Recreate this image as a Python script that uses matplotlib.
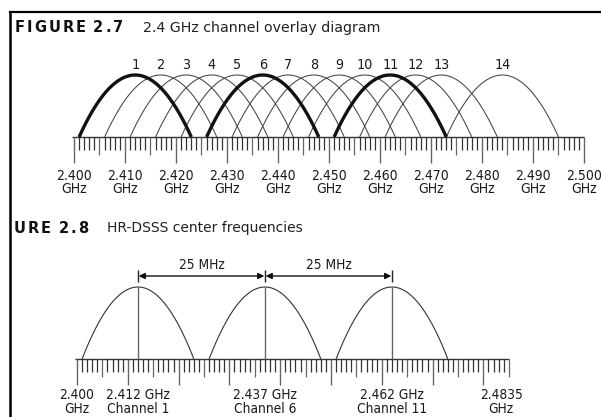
import numpy as np
import matplotlib.pyplot as plt
from matplotlib.lines import Line2D

##-------------------DATA: FIGURE 2.7 (channel overlay)
channels = list(range(1, 15))
centers_27 = [2412, 2417, 2422, 2427, 2432, 2437, 2442, 2447, 2452, 2457, 2462, 2467, 2472, 2484]
bold_channels = [1, 6, 11]
half_width = 11  # MHz either side of the centre
ruler_27 = (2400, 2500)
ticks_27 = [2400, 2410, 2420, 2430, 2440, 2450, 2460, 2470, 2480, 2490, 2500]
labels_27 = ['2.400\nGHz', '2.410\nGHz', '2.420\nGHz', '2.430\nGHz', '2.440\nGHz', '2.450\nGHz',
             '2.460\nGHz', '2.470\nGHz', '2.480\nGHz', '2.490\nGHz', '2.500\nGHz']

##-------------------DATA: FIGURE 2.8 (HR-DSSS centres)
centers_28 = [2412, 2437, 2462]
spacing_text = '25 MHz'
ruler_28 = (2400, 2485)
ticks_28 = [2400, 2412, 2437, 2462, 2483.5]
labels_28 = ['2.400\nGHz', '2.412 GHz\nChannel 1', '2.437 GHz\nChannel 6',
             '2.462 GHz\nChannel 11', '2.4835\nGHz']

NARROW = dict(family=['Liberation Sans Narrow', 'DejaVu Sans'], stretch='condensed')
W, H = 601, 417

fig = plt.figure(figsize=(W / 100, H / 100), dpi=100)
fig.patch.set_facecolor('white')


def arc(ax, c, **kw):
    f = np.linspace(c - half_width, c + half_width, 200)
    ax.plot(f, 1 - ((f - c) / half_width) ** 2, solid_capstyle='butt', **kw)


def ruler(ax, lo, hi, px):
    # px = pixels per data unit on y
    ax.hlines(0, lo - 0.4, hi, color='#333', lw=1.0)
    f = np.arange(lo, hi + 1)
    ax.vlines(f[f % 5 != 0], 0, -13 / px, color='#333', lw=0.9)
    ax.vlines(f[(f % 5 == 0) & (f % 10 != 0)], 0, -18 / px, color='#666', lw=0.9)
    ax.vlines(f[f % 10 == 0], 0, -26 / px, color='#666', lw=1.0)


def setup(ax, ticks, labels, pad, size):
    for s in ['top', 'right', 'left']:
        ax.spines[s].set_visible(False)
    ax.spines['bottom'].set_position(('data', 0))
    ax.spines['bottom'].set_visible(False)
    ax.set_yticks([])
    ax.set_xticks(ticks, labels)
    ax.tick_params(axis='x', length=0, pad=pad, labelsize=size, labelcolor='#1a1a1a')
    for lbl in ax.get_xticklabels():
        lbl.set_family(NARROW['family'])
        lbl.set_stretch('condensed')
        lbl.set_linespacing(0.95)
    ax.patch.set_visible(False)


##-------------------PANEL 1
px1 = 62.0
ax1 = fig.add_axes([0, 217 / H, 1, 155 / H])
ax1.set_xlim(2400 - 74 / 5.1, 2400 + 527 / 5.1)
ax1.set_ylim(-(280 - 217) / px1, (372 - 280) / px1)
ruler(ax1, *ruler_27, px1)
for ch, c in zip(channels, centers_27):
    if ch in bold_channels:
        arc(ax1, c, color='#111', lw=2.4, zorder=3)
    else:
        arc(ax1, c, color='#444', lw=0.75, zorder=2)
    ax1.text(c, 1.05, str(ch), ha='center', va='bottom', fontsize=10.3, color='#1a1a1a', **NARROW)
setup(ax1, ticks_27, labels_27, 23, 10)

##-------------------PANEL 2
px2 = 72.0
ax2 = fig.add_axes([0, 0, 1, 170 / H])
ax2.set_xlim(2400 - 77 / 5.08, 2400 + 524 / 5.08)
ax2.set_ylim(-58 / px2, 112 / px2)
ruler(ax2, *ruler_28, px2)
for c in centers_28:
    arc(ax2, c, color='#333', lw=0.8)
    ax2.vlines(c, 0, 1, color='#666', lw=1.0)
    ax2.vlines(c, 77 / px2, 89 / px2, color='#222', lw=1.0)
arrow_y = 83 / px2
for a, b in zip(centers_28[:-1], centers_28[1:]):
    ax2.annotate('', xy=(b, arrow_y), xytext=(a, arrow_y),
                 arrowprops=dict(arrowstyle='<|-|>', color='#111', lw=1.0,
                                 shrinkA=0.5, shrinkB=0.5, mutation_scale=9))
    ax2.text((a + b) / 2, 94 / px2, spacing_text, ha='center', va='center',
             fontsize=9.8, color='#1a1a1a', **NARROW)
setup(ax2, ticks_28, labels_28, 21, 9.8)

##-------------------TITLES AND FRAME
fig.add_artist(Line2D([9.5 / W, 9.5 / W], [0, 1 - 12 / H], color='black', lw=1.8))
fig.add_artist(Line2D([9.5 / W, 1], [1 - 12 / H, 1 - 12 / H], color='black', lw=1.6))


def spaced(x, y, s, track, **kw):
    # bold caption with letter spacing, one glyph at a time
    r = fig.canvas.get_renderer()
    for ch in s:
        t = fig.text(x / W, 1 - y / H, ch, va='center', ha='left', **kw)
        w = t.get_window_extent(r).width if ch != ' ' else 4
        x += w + track


spaced(15, 28, 'FIGURE 2.7', 1.9, fontsize=10.5, fontweight='bold', color='#111')
fig.text(143 / W, 1 - 28 / H, '2.4 GHz channel overlay diagram', fontsize=10.2,
         va='center', ha='left', color='#222')
spaced(14, 228, 'URE 2.8', 1.9, fontsize=10.5, fontweight='bold', color='#111')
fig.text(107 / W, 1 - 228 / H, 'HR-DSSS center frequencies', fontsize=10,
         va='center', ha='left', color='#222')

fig.savefig('out.png', dpi=100, facecolor='white')
